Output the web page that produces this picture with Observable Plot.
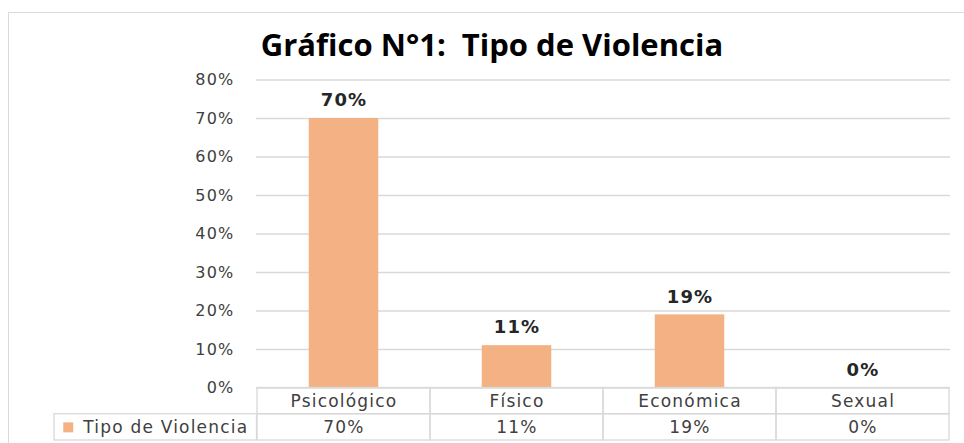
<!DOCTYPE html>
<html><head><meta charset="utf-8">
<script src="https://cdn.jsdelivr.net/npm/d3@7"></script>
<script src="https://cdn.jsdelivr.net/npm/@observablehq/plot@0.6"></script>
<style>
html,body{margin:0;padding:0;background:#fff;overflow:hidden;}
#wrap{position:relative;width:964px;height:443px;overflow:hidden;}
#border{position:absolute;left:8px;top:12px;width:1000px;height:500px;border:1px solid #d9d9d9;box-sizing:border-box;}
#title{position:absolute;left:0;top:26px;width:984px;text-align:center;white-space:pre;font-family:"Open Sans",Lato,sans-serif;font-weight:bold;font-size:31px;line-height:36px;color:#000;font-variant-ligatures:none;font-feature-settings:"liga" 0;}
#chart{position:absolute;left:0;top:0;}
</style></head><body>
<div id="wrap"><div id="border"></div><div id="chart"></div><div id="title"></div></div>
<script>
const categories = ["Psicológico", "Físico", "Económica", "Sexual"];
const values = [0.70, 0.11, 0.19, 0.00];
const seriesName = "Tipo de Violencia";
const chartTitle = "Gráfico N°1:  Tipo de Violencia";
const yTicks = [0, 0.1, 0.2, 0.3, 0.4, 0.5, 0.6, 0.7, 0.8];

const data = categories.map((c, i) => ({category: c, value: values[i]}));
const pct = d3.format(".0%");

// table rows live below zero on the same y scale
const rowH = 26.25 / 385;
const row1 = -rowH, row2 = -2 * rowH;
const band = (950 - 256) / categories.length;
const grid = "#d9d9d9";
const txt = "#404040";

document.getElementById("title").textContent = chartTitle;

const plot = Plot.plot({
  width: 964, height: 443,
  marginLeft: 256, marginRight: 14, marginTop: 79.5, marginBottom: 3,
  x: {type: "band", domain: categories, padding: 0, axis: null},
  y: {domain: [row2, 0.8], axis: null},
  style: {fontFamily: "DejaVu Sans", background: "transparent", overflow: "visible", letterSpacing: "1.2px"},
  marks: [
    Plot.ruleY(yTicks, {stroke: grid, strokeWidth: 1.3}),
    Plot.axisY(yTicks, {tickSize: 0, tickPadding: 22, tickFormat: pct, fontSize: 16, fill: txt, label: null}),
    Plot.barY(data, {x: "category", y: "value", fill: "#F4B183", insetLeft: 51.75, insetRight: 51.75}),
    Plot.text(data, {x: "category", y: "value", text: d => pct(d.value), dy: -18, lineAnchor: "middle", fontWeight: "bold", fontSize: 18, fill: "#262626"}),
    // data table
    Plot.rect(categories, {x: d => d, y1: row1, y2: 0, stroke: grid, strokeWidth: 1.3, fill: "none"}),
    Plot.rect(categories, {x: d => d, y1: row2, y2: row1, stroke: grid, strokeWidth: 1.3, fill: "none"}),
    Plot.rect([seriesName], {x: () => categories[0], y1: row2, y2: row1, dx: -band, insetLeft: -29.5, stroke: grid, strokeWidth: 1.3, fill: "none"}),
    Plot.text(categories, {x: d => d, y: row1 / 2, text: d => d, lineAnchor: "middle", fontSize: 17, fill: txt}),
    Plot.text(data, {x: "category", y: (row1 + row2) / 2, text: d => pct(d.value), lineAnchor: "middle", fontSize: 17, fill: txt}),
    Plot.dot([seriesName], {x: () => categories[0], y: (row1 + row2) / 2, dx: -(band / 2 + 256 - 67), symbol: "square", r: 5.64, fill: "#F4B183", stroke: "none"}),
    Plot.text([seriesName], {x: () => categories[0], y: (row1 + row2) / 2, dx: -(band / 2 + 256 - 82), text: d => d, textAnchor: "start", lineAnchor: "middle", fontSize: 17, fill: txt})
  ]
});
document.getElementById("chart").appendChild(plot);
</script>
</body></html>
